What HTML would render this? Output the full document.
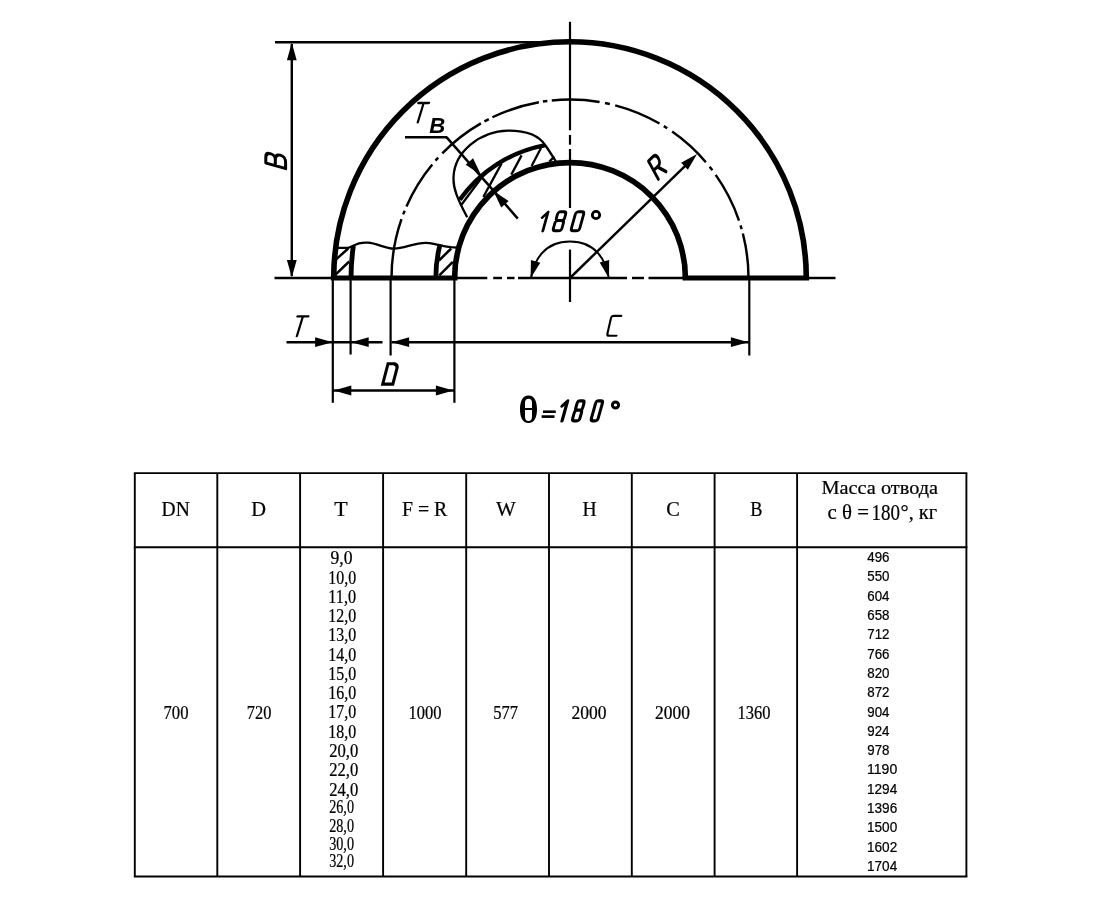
<!DOCTYPE html>
<html><head><meta charset="utf-8"><title>Otvod 180</title>
<style>html,body{margin:0;padding:0;background:#fff}svg{display:block;will-change:transform;transform:translateZ(0)}text{fill:#000}.sf,.ss{stroke:#000;stroke-width:0.22px}.sf{font-family:'Liberation Serif',serif}.ss{font-family:'Liberation Sans',sans-serif}</style>
</head><body>
<svg width="1100" height="900" viewBox="0 0 1100 900">
<defs><filter id="soft" x="0" y="0" width="1100" height="900" filterUnits="userSpaceOnUse"><feGaussianBlur stdDeviation="0.45"/></filter></defs>
<g filter="url(#soft)">
<rect x="0" y="0" width="1100" height="900" fill="#fff"/>
<path d="M333.70,278.00 A236.3,236.3 0 0 1 806.30,278.00" fill="none" stroke="#000" stroke-width="5.6" />
<path d="M454.60,278.00 A115.4,115.4 0 0 1 685.40,278.00" fill="none" stroke="#000" stroke-width="5.6" />
<path d="M330.90,278.00 L457.40,278.00" fill="none" stroke="#000" stroke-width="4.8" />
<path d="M682.60,278.00 L809.10,278.00" fill="none" stroke="#000" stroke-width="4.8" />
<path d="M351.00,278.00 A219.0,219.0 0 0 1 353.35,246.00" fill="none" stroke="#000" stroke-width="4.9" />
<path d="M435.80,278.00 A134.20000000000002,134.20000000000002 0 0 1 440.13,244.20" fill="none" stroke="#000" stroke-width="4.8" />
<path d="M459.71,199.79 A135.2,135.2 0 0 1 545.51,145.04" fill="none" stroke="#000" stroke-width="4.4" />
<path d="M391.50,278.00 A178.5,178.5 0 0 1 748.50,278.00" fill="none" stroke="#000" stroke-width="2.45" stroke-dasharray="60 5 4 4.6 49.4 5 4 6 49 4 5 4 49 4 4.5 4.5 48 5.5 5 5.5 48 5 4 6 45.6 5.9 4.5 5.6 51.4 5 4 4.5 60"/>
<path d="M274.50,278.00 L333.00,278.00" fill="none" stroke="#000" stroke-width="2.45" />
<path d="M455.00,278.00 L487.30,278.00" fill="none" stroke="#000" stroke-width="2.45" />
<path d="M493.20,278.00 L502.00,278.00" fill="none" stroke="#000" stroke-width="2.45" />
<path d="M507.00,278.00 L514.50,278.00" fill="none" stroke="#000" stroke-width="2.45" />
<path d="M518.00,278.00 L627.00,278.00" fill="none" stroke="#000" stroke-width="2.45" />
<path d="M632.00,278.00 L644.00,278.00" fill="none" stroke="#000" stroke-width="2.45" />
<path d="M648.50,278.00 L686.00,278.00" fill="none" stroke="#000" stroke-width="2.45" />
<path d="M806.00,278.00 L835.50,278.00" fill="none" stroke="#000" stroke-width="2.45" />
<path d="M570.00,21.80 L570.00,130.30" fill="none" stroke="#000" stroke-width="2.2" />
<path d="M570.00,135.00 L570.00,144.70" fill="none" stroke="#000" stroke-width="2.2" />
<path d="M570.00,149.00 L570.00,208.00" fill="none" stroke="#000" stroke-width="2.2" />
<path d="M570.00,249.60 L570.00,302.00" fill="none" stroke="#000" stroke-width="2.2" />
<path d="M275.00,42.30 L572.00,42.30" fill="none" stroke="#000" stroke-width="2.45" />
<path d="M291.80,44.00 L291.80,276.00" fill="none" stroke="#000" stroke-width="2.45" />
<path d="M291.80,42.80 L296.70,60.30 L286.90,60.30 Z" fill="#000"/>
<path d="M291.80,277.40 L286.90,259.90 L296.70,259.90 Z" fill="#000"/>
<path d="M570.00,278.00 L689.04,162.03" fill="none" stroke="#000" stroke-width="2.45" />
<path d="M697.04,154.03 L687.86,169.69 L681.16,162.82 Z" fill="#000"/>
<path d="M531.2,277 C534,262 543,241.5 570,241.5 C597,241.5 606,262 608.6,277" fill="none" stroke="#000" stroke-width="2"/>
<path d="M530.60,278.20 L530.94,260.03 L540.32,262.85 Z" fill="#000"/>
<path d="M609.00,278.20 L599.71,262.58 L609.17,260.03 Z" fill="#000"/>
<path d="M405.00,137.20 L447.00,137.20" fill="none" stroke="#000" stroke-width="2.45" />
<path d="M446.50,137.10 L517.80,218.60" fill="none" stroke="#000" stroke-width="2.45" />
<path d="M480.90,174.70 L465.69,164.76 L473.06,158.30 Z" fill="#000"/>
<path d="M493.40,191.00 L508.61,200.94 L501.24,207.40 Z" fill="#000"/>
<path d="M467.2,217.2 C458,200 452.5,188 453.6,176 C455,152 480,131 508,130.6 C528,130.4 540,137 545.5,145.5 C550,152 553,157 556.5,162.5" fill="none" stroke="#000" stroke-width="2.3"/>
<path d="M461.40,204.80 L481.00,178.60" fill="none" stroke="#000" stroke-width="2.3" />
<path d="M483.30,197.00 L501.50,163.60" fill="none" stroke="#000" stroke-width="2.3" />
<path d="M511.30,174.60 L521.60,155.40" fill="none" stroke="#000" stroke-width="2.3" />
<path d="M531.60,166.00 L541.00,148.00" fill="none" stroke="#000" stroke-width="2.3" />
<path d="M549.40,161.60 L554.20,156.60" fill="none" stroke="#000" stroke-width="2.3" />
<path d="M335,247.8 L348,247.8 C352,246.6 355,244.6 359,243.3 C362,242.6 365,242.4 368,242.6 C377,243.2 385,248.6 394,248.6 C404,248.6 414,242.8 425.6,242.8 C430,242.8 433,243.8 436.7,244.7 C442,245.8 447,246.8 451,247.2 L456.5,247.6" fill="none" stroke="#000" stroke-width="2.3"/>
<path d="M336.10,259.40 L348.20,248.50" fill="none" stroke="#000" stroke-width="2.5" />
<path d="M335.00,275.20 L349.20,261.50" fill="none" stroke="#000" stroke-width="2.5" />
<path d="M439.00,260.50 L451.20,248.50" fill="none" stroke="#000" stroke-width="2.5" />
<path d="M439.30,275.40 L452.80,261.90" fill="none" stroke="#000" stroke-width="2.5" />
<path d="M332.80,278.00 L332.80,402.80" fill="none" stroke="#000" stroke-width="2.2" />
<path d="M350.60,278.00 L350.60,354.50" fill="none" stroke="#000" stroke-width="2.2" />
<path d="M390.60,278.00 L390.60,355.50" fill="none" stroke="#000" stroke-width="2.2" />
<path d="M454.40,278.00 L454.40,402.80" fill="none" stroke="#000" stroke-width="2.2" />
<path d="M749.30,278.00 L749.30,355.50" fill="none" stroke="#000" stroke-width="2.2" />
<path d="M286.50,342.20 L382.50,342.20" fill="none" stroke="#000" stroke-width="2.45" />
<path d="M332.60,342.20 L315.10,347.10 L315.10,337.30 Z" fill="#000"/>
<path d="M351.20,342.20 L368.70,337.30 L368.70,347.10 Z" fill="#000"/>
<path d="M391.50,342.20 L749.00,342.20" fill="none" stroke="#000" stroke-width="2.45" />
<path d="M391.60,342.20 L409.10,337.30 L409.10,347.10 Z" fill="#000"/>
<path d="M748.40,342.20 L730.90,347.10 L730.90,337.30 Z" fill="#000"/>
<path d="M333.00,390.50 L454.00,390.50" fill="none" stroke="#000" stroke-width="2.45" />
<path d="M333.80,390.50 L351.30,385.60 L351.30,395.40 Z" fill="#000"/>
<path d="M453.40,390.50 L435.90,395.40 L435.90,385.60 Z" fill="#000"/>
<g transform="translate(285.60,168.60) rotate(-90) skewX(-15.5) scale(1.98) translate(0,-10)"><path d="M0,10 V0 H3 Q5.4,0 5.4,2.4 Q5.4,4.8 3,4.8 H0 M3,4.8 Q6,4.8 6,7.4 Q6,10 3,10 H0" fill="none" stroke="#000" stroke-width="1.515" stroke-linecap="round" stroke-linejoin="round"/></g>
<g transform="translate(412.40,122.40) rotate(0) skewX(-17) scale(1.94) translate(0,-10)"><path d="M0,0 H5.5 M2.75,0 V10" fill="none" stroke="#000" stroke-width="1.186" stroke-linecap="round" stroke-linejoin="round"/></g>
<text x="429.2" y="132.9" font-family="'Liberation Sans', sans-serif" font-size="21.8" font-weight="bold" font-style="italic" textLength="16" lengthAdjust="spacingAndGlyphs">B</text>
<g transform="translate(658.40,179.20) rotate(-44.3) skewX(-15.5) scale(2.0) translate(0,-10)"><path d="M0,10 V0 H3 Q5.2,0 5.2,2.6 Q5.2,5.2 3,5.2 H0 M2.6,5.2 L5.4,10" fill="none" stroke="#000" stroke-width="1.500" stroke-linecap="round" stroke-linejoin="round"/></g>
<g transform="translate(537.50,231.00) rotate(0) skewX(-15.5) scale(1.9) translate(0,-10)"><path d="M0.5,2.9 L2.8,0 V10" fill="none" stroke="#000" stroke-width="1.474" stroke-linecap="round" stroke-linejoin="round"/></g>
<g transform="translate(552.70,230.80) rotate(0) skewX(-15.5) scale(1.9) translate(0,-10)"><path d="M1.4,4.6 Q0.1,4.6 0.1,3.4 V1.4 Q0.1,0 1.5,0 H3 Q4.4,0 4.4,1.4 V3.4 Q4.4,4.6 3.1,4.6 H1.4 Q0,4.6 0,6 V8.6 Q0,10 1.4,10 H3.1 Q4.5,10 4.5,8.6 V6 Q4.5,4.6 3.1,4.6" fill="none" stroke="#000" stroke-width="1.526" stroke-linecap="round" stroke-linejoin="round"/></g>
<g transform="translate(570.70,230.80) rotate(0) skewX(-15.5) scale(1.9) translate(0,-10)"><path d="M1.4,0 H3 Q4.4,0 4.4,1.4 V8.6 Q4.4,10 3,10 H1.4 Q0,10 0,8.6 V1.4 Q0,0 1.4,0 Z" fill="none" stroke="#000" stroke-width="1.526" stroke-linecap="round" stroke-linejoin="round"/></g>
<circle cx="596.0" cy="215.0" r="3.7" fill="none" stroke="#000" stroke-width="2.8"/>
<g transform="translate(291.40,336.20) rotate(0) skewX(-17) scale(1.98) translate(0,-10)"><path d="M0,0 H5.5 M2.75,0 V10" fill="none" stroke="#000" stroke-width="1.162" stroke-linecap="round" stroke-linejoin="round"/></g>
<g transform="translate(382.70,384.10) rotate(0) skewX(-14.7) scale(2.03) translate(0,-10)"><path d="M0,0 V10 H5 V2 Q4.8,0.5 3,0 Z" fill="none" stroke="#000" stroke-width="1.527" stroke-linecap="round" stroke-linejoin="miter"/></g>
<g transform="translate(606.90,335.80) rotate(0) skewX(-13) scale(1.99) translate(0,-10)"><path d="M4.9,0 H1.2 Q0,0 0,1.2 V8.8 Q0,10 1.2,10 H4.8" fill="none" stroke="#000" stroke-width="1.080" stroke-linecap="round" stroke-linejoin="round"/></g>
<path fill-rule="evenodd" d="M528.5,395.4 C522.5,395.4 520,401.5 520,409.2 C520,417 522.5,423.1 528.5,423.1 C534.5,423.1 537,417 537,409.2 C537,401.5 534.5,395.4 528.5,395.4 Z M525,408 L525,403 C525,400 526.3,398.7 528.5,398.7 C530.7,398.7 532,400 532,403 L532,408 Z M525,410.1 L532,410.1 L532,416.5 C532,419.5 530.7,421 528.5,421 C526.3,421 525,419.5 525,416.5 Z" fill="#000"/>
<path d="M543.00,411.70 L555.80,411.70" fill="none" stroke="#000" stroke-width="2.6" />
<path d="M541.60,416.60 L554.50,416.60" fill="none" stroke="#000" stroke-width="2.7" />
<g transform="translate(558.00,420.90) rotate(0) skewX(-15.5) scale(2.0) translate(0,-10)"><path d="M 0.000,2.6 L 2.016,0 V 10" fill="none" stroke="#000" stroke-width="1.650" stroke-linecap="round" stroke-linejoin="round"/></g>
<g transform="translate(572.00,420.90) rotate(0) skewX(-15.5) scale(2.0) translate(0,-10)"><path d="M 1.120,4.6 Q 0.080,4.6 0.080,3.4 V 1.4 Q 0.080,0 1.200,0 H 2.400 Q 3.520,0 3.520,1.4 V 3.4 Q 3.520,4.6 2.480,4.6 H 1.120 Q 0.000,4.6 0.000,6 V 8.6 Q 0.000,10 1.120,10 H 2.480 Q 3.600,10 3.600,8.6 V 6 Q 3.600,4.6 2.480,4.6" fill="none" stroke="#000" stroke-width="1.550" stroke-linecap="round" stroke-linejoin="round"/></g>
<g transform="translate(590.70,420.90) rotate(0) skewX(-15.5) scale(2.0) translate(0,-10)"><path d="M 1.078,0 H 2.310 Q 3.388,0 3.388,1.4 V 8.6 Q 3.388,10 2.310,10 H 1.078 Q 0.000,10 0.000,8.6 V 1.4 Q 0.000,0 1.078,0 Z" fill="none" stroke="#000" stroke-width="1.550" stroke-linecap="round" stroke-linejoin="round"/></g>
<circle cx="615.5" cy="405.0" r="3.1" fill="none" stroke="#000" stroke-width="3.0"/>
<path d="M133.85,473.10 L967.35,473.10" fill="none" stroke="#000" stroke-width="1.9" />
<path d="M133.85,547.30 L967.35,547.30" fill="none" stroke="#000" stroke-width="1.9" />
<path d="M133.85,876.50 L967.35,876.50" fill="none" stroke="#000" stroke-width="1.9" />
<path d="M134.80,473.10 L134.80,876.50" fill="none" stroke="#000" stroke-width="1.9" />
<path d="M217.30,473.10 L217.30,876.50" fill="none" stroke="#000" stroke-width="1.9" />
<path d="M300.10,473.10 L300.10,876.50" fill="none" stroke="#000" stroke-width="1.9" />
<path d="M383.10,473.10 L383.10,876.50" fill="none" stroke="#000" stroke-width="1.9" />
<path d="M466.20,473.10 L466.20,876.50" fill="none" stroke="#000" stroke-width="1.9" />
<path d="M549.00,473.10 L549.00,876.50" fill="none" stroke="#000" stroke-width="1.9" />
<path d="M631.80,473.10 L631.80,876.50" fill="none" stroke="#000" stroke-width="1.9" />
<path d="M714.60,473.10 L714.60,876.50" fill="none" stroke="#000" stroke-width="1.9" />
<path d="M797.10,473.10 L797.10,876.50" fill="none" stroke="#000" stroke-width="1.9" />
<path d="M966.40,473.10 L966.40,876.50" fill="none" stroke="#000" stroke-width="1.9" />
<text class="sf" lengthAdjust="spacingAndGlyphs" x="161.5" y="515.8" font-size="20.2" textLength="28.3">DN</text>
<text class="sf" lengthAdjust="spacingAndGlyphs" x="251.3" y="515.7" font-size="20.2" textLength="14.8">D</text>
<text class="sf" lengthAdjust="spacingAndGlyphs" x="334.3" y="515.7" font-size="20.2" textLength="13.4">T</text>
<text class="sf" lengthAdjust="spacingAndGlyphs" x="402.0" y="515.7" font-size="20.2" textLength="45.3">F = R</text>
<text class="sf" lengthAdjust="spacingAndGlyphs" x="495.9" y="515.7" font-size="20.2" textLength="19.8">W</text>
<text class="sf" lengthAdjust="spacingAndGlyphs" x="582.5" y="515.7" font-size="20.2" textLength="14.2">H</text>
<text class="sf" lengthAdjust="spacingAndGlyphs" x="666.2" y="515.7" font-size="20.2" textLength="13.6">C</text>
<text class="sf" lengthAdjust="spacingAndGlyphs" x="750.2" y="515.7" font-size="20.2" textLength="12.2">B</text>
<text class="sf" lengthAdjust="spacingAndGlyphs" x="821.5" y="493.6" font-size="19.6" textLength="116.6">Масса отвода</text>
<text class="sf" lengthAdjust="spacingAndGlyphs" x="827.5" y="519.4" font-size="21" textLength="41.5">с θ =</text>
<text class="sf" lengthAdjust="spacingAndGlyphs" x="871.5" y="519.6" font-size="22.5" textLength="28.5">180</text>
<text class="sf" lengthAdjust="spacingAndGlyphs" x="900.5" y="519.4" font-size="21" textLength="36.5">°, кг</text>
<text class="sf" lengthAdjust="spacingAndGlyphs" x="163.5" y="718.8" font-size="17.8" textLength="25">700</text>
<text class="sf" lengthAdjust="spacingAndGlyphs" x="246.8" y="718.8" font-size="17.8" textLength="24.6">720</text>
<text class="sf" lengthAdjust="spacingAndGlyphs" x="408.4" y="718.8" font-size="17.8" textLength="33">1000</text>
<text class="sf" lengthAdjust="spacingAndGlyphs" x="493.2" y="718.8" font-size="17.8" textLength="24.8">577</text>
<text class="sf" lengthAdjust="spacingAndGlyphs" x="571.5" y="718.8" font-size="17.8" textLength="35.0">2000</text>
<text class="sf" lengthAdjust="spacingAndGlyphs" x="655.1" y="718.8" font-size="17.8" textLength="34.8">2000</text>
<text class="sf" lengthAdjust="spacingAndGlyphs" x="737.6" y="718.8" font-size="17.8" textLength="33">1360</text>
<text class="sf" lengthAdjust="spacingAndGlyphs" x="330.5" y="564.3" font-size="17.8" textLength="22.0">9,0</text>
<text class="sf" lengthAdjust="spacingAndGlyphs" x="328.3" y="583.6" font-size="17.8" textLength="27.8">10,0</text>
<text class="sf" lengthAdjust="spacingAndGlyphs" x="328.3" y="602.8" font-size="17.8" textLength="27.8">11,0</text>
<text class="sf" lengthAdjust="spacingAndGlyphs" x="328.3" y="622.1" font-size="17.8" textLength="27.8">12,0</text>
<text class="sf" lengthAdjust="spacingAndGlyphs" x="328.3" y="641.3" font-size="17.8" textLength="27.8">13,0</text>
<text class="sf" lengthAdjust="spacingAndGlyphs" x="328.3" y="660.6" font-size="17.8" textLength="27.8">14,0</text>
<text class="sf" lengthAdjust="spacingAndGlyphs" x="328.3" y="679.9" font-size="17.8" textLength="27.8">15,0</text>
<text class="sf" lengthAdjust="spacingAndGlyphs" x="328.3" y="699.1" font-size="17.8" textLength="27.8">16,0</text>
<text class="sf" lengthAdjust="spacingAndGlyphs" x="328.3" y="718.4" font-size="17.8" textLength="27.8">17,0</text>
<text class="sf" lengthAdjust="spacingAndGlyphs" x="328.3" y="737.6" font-size="17.8" textLength="27.8">18,0</text>
<text class="sf" lengthAdjust="spacingAndGlyphs" x="329.2" y="756.9" font-size="17.8" textLength="29.0">20,0</text>
<text class="sf" lengthAdjust="spacingAndGlyphs" x="329.2" y="776.2" font-size="17.8" textLength="29.0">22,0</text>
<text class="sf" lengthAdjust="spacingAndGlyphs" x="329.2" y="795.6" font-size="17.8" textLength="29.0">24,0</text>
<text class="sf" lengthAdjust="spacingAndGlyphs" x="329.2" y="813.4" font-size="17.8" textLength="24.8">26,0</text>
<text class="sf" lengthAdjust="spacingAndGlyphs" x="329.2" y="832.0" font-size="17.8" textLength="24.8">28,0</text>
<text class="sf" lengthAdjust="spacingAndGlyphs" x="329.2" y="849.6" font-size="17.8" textLength="24.8">30,0</text>
<text class="sf" lengthAdjust="spacingAndGlyphs" x="329.2" y="866.6" font-size="17.8" textLength="24.8">32,0</text>
<text class="ss" lengthAdjust="spacingAndGlyphs" x="867.3" y="562.0" font-size="13.8" textLength="22.2">496</text>
<text class="ss" lengthAdjust="spacingAndGlyphs" x="867.3" y="581.3" font-size="13.8" textLength="22.2">550</text>
<text class="ss" lengthAdjust="spacingAndGlyphs" x="867.3" y="600.6" font-size="13.8" textLength="22.2">604</text>
<text class="ss" lengthAdjust="spacingAndGlyphs" x="867.3" y="619.9" font-size="13.8" textLength="22.2">658</text>
<text class="ss" lengthAdjust="spacingAndGlyphs" x="867.3" y="639.2" font-size="13.8" textLength="22.2">712</text>
<text class="ss" lengthAdjust="spacingAndGlyphs" x="867.3" y="658.5" font-size="13.8" textLength="22.2">766</text>
<text class="ss" lengthAdjust="spacingAndGlyphs" x="867.3" y="677.9" font-size="13.8" textLength="22.2">820</text>
<text class="ss" lengthAdjust="spacingAndGlyphs" x="867.3" y="697.2" font-size="13.8" textLength="22.2">872</text>
<text class="ss" lengthAdjust="spacingAndGlyphs" x="867.3" y="716.5" font-size="13.8" textLength="22.2">904</text>
<text class="ss" lengthAdjust="spacingAndGlyphs" x="867.3" y="735.8" font-size="13.8" textLength="22.2">924</text>
<text class="ss" lengthAdjust="spacingAndGlyphs" x="867.3" y="755.1" font-size="13.8" textLength="22.2">978</text>
<text class="ss" lengthAdjust="spacingAndGlyphs" x="867.0" y="774.4" font-size="13.8" textLength="30.2">1190</text>
<text class="ss" lengthAdjust="spacingAndGlyphs" x="867.0" y="793.7" font-size="13.8" textLength="30.2">1294</text>
<text class="ss" lengthAdjust="spacingAndGlyphs" x="867.0" y="813.0" font-size="13.8" textLength="30.2">1396</text>
<text class="ss" lengthAdjust="spacingAndGlyphs" x="867.0" y="832.3" font-size="13.8" textLength="30.2">1500</text>
<text class="ss" lengthAdjust="spacingAndGlyphs" x="867.0" y="851.6" font-size="13.8" textLength="30.2">1602</text>
<text class="ss" lengthAdjust="spacingAndGlyphs" x="867.0" y="871.0" font-size="13.8" textLength="30.2">1704</text>
</g>
</svg>
</body></html>
